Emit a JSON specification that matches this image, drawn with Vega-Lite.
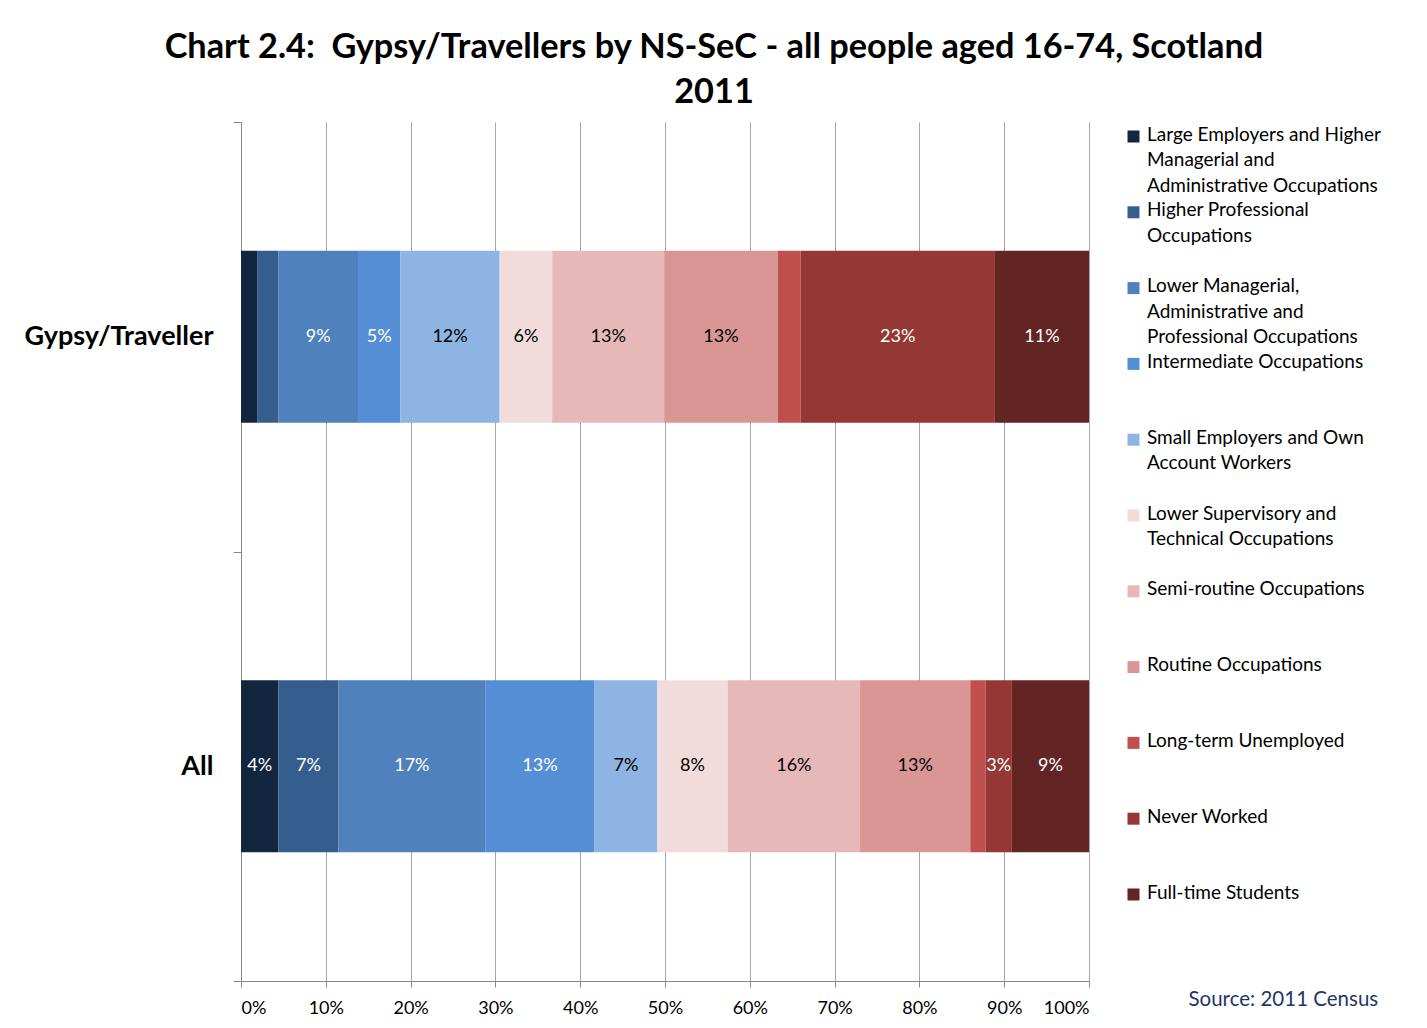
{
  "$schema": "https://vega.github.io/schema/vega-lite/v6.json",
  "width": 848,
  "height": 859,
  "autosize": "none",
  "padding": {"left": 241, "top": 122, "right": 338, "bottom": 47},
  "background": "white",
  "title": {
    "text": ["Chart 2.4:\u00a0 Gypsy/Travellers by NS-SeC - all people aged 16-74, Scotland", "2011"],
    "font": "Lato",
    "fontSize": 34.3,
    "fontWeight": "bold",
    "color": "black",
    "lineHeight": 45,
    "anchor": "middle",
    "dx": 49,
    "offset": -2
  },
  "data": {
    "values": [
      {"group": "Gypsy/Traveller", "category": "Large Employers and Higher Managerial and Administrative Occupations", "order": 1, "value": 0.019},
      {"group": "Gypsy/Traveller", "category": "Higher Professional Occupations", "order": 2, "value": 0.025},
      {"group": "Gypsy/Traveller", "category": "Lower Managerial, Administrative and Professional Occupations", "order": 3, "value": 0.094},
      {"group": "Gypsy/Traveller", "category": "Intermediate Occupations", "order": 4, "value": 0.050},
      {"group": "Gypsy/Traveller", "category": "Small Employers and Own Account Workers", "order": 5, "value": 0.117},
      {"group": "Gypsy/Traveller", "category": "Lower Supervisory and Technical Occupations", "order": 6, "value": 0.062},
      {"group": "Gypsy/Traveller", "category": "Semi-routine Occupations", "order": 7, "value": 0.132},
      {"group": "Gypsy/Traveller", "category": "Routine Occupations", "order": 8, "value": 0.134},
      {"group": "Gypsy/Traveller", "category": "Long-term Unemployed", "order": 9, "value": 0.027},
      {"group": "Gypsy/Traveller", "category": "Never Worked", "order": 10, "value": 0.229},
      {"group": "Gypsy/Traveller", "category": "Full-time Students", "order": 11, "value": 0.111},
      {"group": "All", "category": "Large Employers and Higher Managerial and Administrative Occupations", "order": 1, "value": 0.044},
      {"group": "All", "category": "Higher Professional Occupations", "order": 2, "value": 0.071},
      {"group": "All", "category": "Lower Managerial, Administrative and Professional Occupations", "order": 3, "value": 0.173},
      {"group": "All", "category": "Intermediate Occupations", "order": 4, "value": 0.129},
      {"group": "All", "category": "Small Employers and Own Account Workers", "order": 5, "value": 0.074},
      {"group": "All", "category": "Lower Supervisory and Technical Occupations", "order": 6, "value": 0.083},
      {"group": "All", "category": "Semi-routine Occupations", "order": 7, "value": 0.156},
      {"group": "All", "category": "Routine Occupations", "order": 8, "value": 0.130},
      {"group": "All", "category": "Long-term Unemployed", "order": 9, "value": 0.018},
      {"group": "All", "category": "Never Worked", "order": 10, "value": 0.031},
      {"group": "All", "category": "Full-time Students", "order": 11, "value": 0.091}
    ]
  },
  "encoding": {
    "y": {
      "field": "group",
      "type": "nominal",
      "sort": ["Gypsy/Traveller", "All"],
      "scale": {"paddingInner": 0, "paddingOuter": 0},
      "axis": {
        "title": null,
        "labelFont": "Lato",
        "labelFontSize": 27,
        "labelFontWeight": "bold",
        "labelColor": "black",
        "labelPadding": 20,
        "labelLimit": 400,
        "tickBand": "extent",
        "tickSize": 8,
        "tickColor": "#888888",
        "domainColor": "#888888",
        "grid": false
      }
    },
    "x": {
      "field": "value",
      "type": "quantitative",
      "stack": "zero",
      "scale": {"domain": [0, 1], "nice": false},
      "axis": {
        "values": [0, 0.1, 0.2, 0.3, 0.4, 0.5, 0.6, 0.7, 0.8, 0.9, 1],
        "format": ".0%",
        "grid": true,
        "gridColor": "#a6a6a6",
        "tickColor": "#888888",
        "domainColor": "#888888",
        "tickSize": 6,
        "labelFont": "Lato",
        "labelFontSize": 18,
        "labelColor": "black",
        "labelPadding": 12,
        "title": "Source: 2011 Census",
        "titleFont": "Lato",
        "titleFontSize": 20.5,
        "titleFontWeight": "normal",
        "titleColor": "#1f3864",
        "titleAlign": "left",
        "titleAnchor": "start",
        "titleBaseline": "alphabetic",
        "titleX": 947,
        "titleY": 24
      }
    },
    "order": {"field": "order", "type": "quantitative"}
  },
  "layer": [
    {
      "mark": {"type": "bar", "height": {"band": 0.4}},
      "encoding": {
        "color": {
          "field": "category",
          "type": "nominal",
          "scale": {
            "domain": [
              "Large Employers and Higher Managerial and Administrative Occupations",
              "Higher Professional Occupations",
              "Lower Managerial, Administrative and Professional Occupations",
              "Intermediate Occupations",
              "Small Employers and Own Account Workers",
              "Lower Supervisory and Technical Occupations",
              "Semi-routine Occupations",
              "Routine Occupations",
              "Long-term Unemployed",
              "Never Worked",
              "Full-time Students"
            ],
            "range": ["#12263f", "#355e8e", "#4f81bd", "#558ed5", "#8eb4e3", "#f2dcdb", "#e6b9b8", "#d99694", "#c0504d", "#953735", "#632523"]
          },
          "legend": {
            "title": null,
            "orient": "none",
            "legendX": 883,
            "legendY": 5,
            "symbolType": "square",
            "symbolSize": 144,
            "symbolStrokeWidth": 0,
            "labelFont": "Lato",
            "labelFontSize": 19,
            "labelColor": "black",
            "labelLimit": 400,
            "labelBaseline": "top",
            "labelOffset": 4,
            "gridAlign": "all",
            "rowPadding": 4.8,
            "labelExpr": "datum.label == 'Large Employers and Higher Managerial and Administrative Occupations' ? ['Large Employers and Higher', 'Managerial and', 'Administrative Occupations'] : datum.label == 'Higher Professional Occupations' ? ['Higher Professional', 'Occupations'] : datum.label == 'Lower Managerial, Administrative and Professional Occupations' ? ['Lower Managerial,', 'Administrative and', 'Professional Occupations'] : datum.label == 'Small Employers and Own Account Workers' ? ['Small Employers and Own', 'Account Workers'] : datum.label == 'Lower Supervisory and Technical Occupations' ? ['Lower Supervisory and', 'Technical Occupations'] : datum.label",
            "encode": {
              "labels": {"update": {"lineHeight": {"value": 25.5}, "dy": {"value": -11}}}
            }
          }
        }
      }
    },
    {
      "mark": {"type": "text", "font": "Lato", "fontSize": 18},
      "encoding": {
        "x": {"field": "value", "type": "quantitative", "stack": "zero", "bandPosition": 0.5},
        "text": {
          "condition": {"test": "datum.value < 0.03", "value": ""},
          "field": "value",
          "type": "quantitative",
          "format": ".0%"
        },
        "color": {
          "condition": {
            "test": "datum.order >= 5 && datum.order <= 8",
            "value": "black"
          },
          "value": "white"
        }
      }
    }
  ],
  "config": {
    "view": {"stroke": null}
  }
}
